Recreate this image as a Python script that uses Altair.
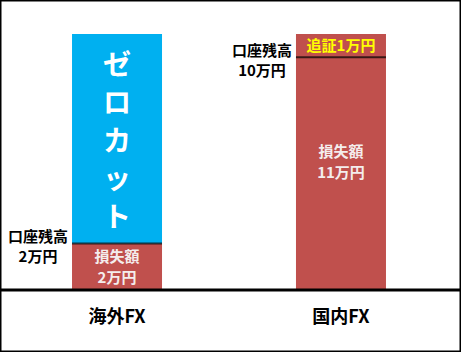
import altair as alt
import pandas as pd

FONT = "Noto Sans CJK JP"

# --- data ---
categories = ["海外FX", "国内FX"]
loss = [2, 11]            # 損失額 (万円)
balance = [2, 10]         # 口座残高 (万円)
margin_call = [0, 1]      # 追証 (万円)
zero_cut_top = 11         # top of the ゼロカット segment (万円)

seg_category = ["海外FX", "海外FX", "国内FX"]
seg_kind = ["損失額", "ゼロカット", "損失額"]
seg_start = [0, 2, 0]
seg_end = [2, zero_cut_top, 11]

segments = pd.DataFrame({"cat": seg_category, "kind": seg_kind,
                         "start": seg_start, "end": seg_end})

base_df = pd.DataFrame({"cat": categories, "loss": loss, "balance": balance,
                        "margin": margin_call})
base_df["loss_mid"] = base_df["loss"] / 2
base_df["loss_text"] = ["損失額\n" + f"{v}万円" for v in loss]
base_df["bal_text"] = ["口座残高\n" + f"{v}万円" for v in balance]
base_df["margin_mid"] = base_df["balance"] + base_df["margin"] / 2
base_df["margin_text"] = [f"追証{v}万円" if v else "" for v in margin_call]

zc_df = pd.DataFrame({"cat": ["海外FX"], "mid": [(2 + zero_cut_top) / 2],
                      "text": ["ゼ\nロ\nカ\nッ\nト"]})

x_enc = alt.X("cat:N", sort=categories,
              scale=alt.Scale(range=[72, 386], paddingInner=0.598, paddingOuter=0),
              axis=alt.Axis(title=None, ticks=False, tickSize=0, grid=False,
                            domain=False,
                            labelAngle=0, labelFont=FONT, labelFontSize=18,
                            labelFontWeight="bold", labelColor="black",
                            labelBaseline="middle", labelPadding=27))
y_scale = alt.Scale(domain=[0, 12.46], nice=False, zero=False)

bars = alt.Chart(segments).mark_bar(width=90).encode(
    x=x_enc,
    y=alt.Y("start:Q", scale=y_scale, axis=None),
    y2="end:Q",
    color=alt.Color("kind:N", scale=alt.Scale(domain=["損失額", "ゼロカット"],
                                              range=["#C0504D", "#00B0F0"]),
                    legend=None),
)

baseline = alt.Chart(pd.DataFrame({"zero": [0]})).mark_rule(
    color="black", strokeWidth=3).encode(
    y=alt.Y("zero:Q", scale=y_scale),
)

base = alt.Chart(base_df)

lines = base.mark_tick(color="black", thickness=2, size=90).encode(
    x=alt.X("cat:N", sort=categories),
    y=alt.Y("balance:Q", scale=y_scale),
)

loss_text = base.mark_text(font=FONT, fontSize=15, fontWeight="bold",
                           color="#F4EDED", lineBreak="\n", lineHeight=21,
                           baseline="middle", dy=-10).encode(
    x=alt.X("cat:N", sort=categories),
    y=alt.Y("loss_mid:Q", scale=y_scale),
    text="loss_text:N",
)

bal_text = base.mark_text(font=FONT, fontSize=15, fontWeight="bold",
                          color="black", lineBreak="\n", lineHeight=20,
                          baseline="middle", dx=-79, dy=-6).encode(
    x=alt.X("cat:N", sort=categories),
    y=alt.Y("balance:Q", scale=y_scale),
    text="bal_text:N",
)

margin_text = base.mark_text(font=FONT, fontSize=15, fontWeight="bold",
                             color="#FFFF00", baseline="middle").encode(
    x=alt.X("cat:N", sort=categories),
    y=alt.Y("margin_mid:Q", scale=y_scale),
    text="margin_text:N",
)

zc_text = alt.Chart(zc_df).mark_text(font=FONT, fontSize=28, fontWeight="bold",
                                     color="white", lineBreak="\n", lineHeight=38,
                                     baseline="middle", dy=-72).encode(
    x=alt.X("cat:N", sort=categories),
    y=alt.Y("mid:Q", scale=y_scale),
    text="text:N",
)

frame = alt.Chart(pd.DataFrame({"a": [0]})).mark_rect(
    fill=None, stroke="black", strokeWidth=2, clip=False).encode(
    x=alt.value(0.5), x2=alt.value(460.5), y=alt.value(0.5), y2=alt.value(351.5))

chart = alt.layer(bars, baseline, lines, loss_text, bal_text, margin_text, zc_text,
                  frame).properties(
    width=461, height=290,
    padding={"left": 0, "top": 0, "right": 0, "bottom": 62},
    autosize=alt.AutoSizeParams(type="none"),
    background="white",
).configure_view(stroke=None)

chart.save("out.html", embed_options={"renderer": "svg", "actions": False})
